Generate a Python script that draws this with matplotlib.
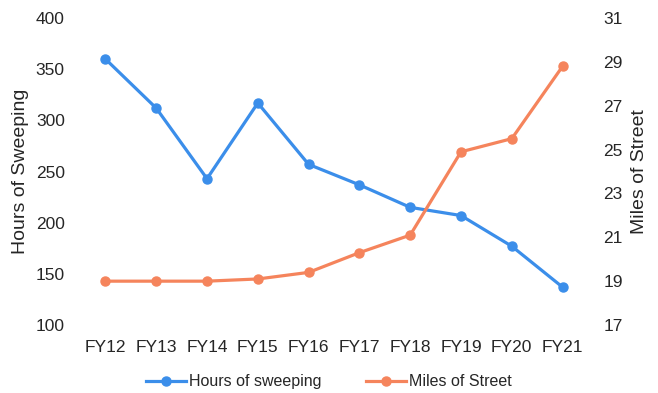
import matplotlib.pyplot as plt
import numpy as np

# Data
years = ['FY12', 'FY13', 'FY14', 'FY15', 'FY16', 'FY17', 'FY18', 'FY19', 'FY20', 'FY21']
hours = [360, 312, 243, 317, 257, 237, 215, 207, 177, 137]
miles = [19.0, 19.0, 19.0, 19.1, 19.4, 20.3, 21.1, 24.9, 25.5, 28.8]

BLUE = '#3B8EEA'
ORANGE = '#F5845C'
TEXT = '#262626'

plt.rcParams['font.family'] = ['Liberation Sans', 'DejaVu Sans']

fig = plt.figure(figsize=(6.58, 3.93), dpi=100)
ax = fig.add_axes([0.1216, 0.173, 0.772, 0.781])
ax2 = ax.twinx()

x = np.arange(len(years))
l1, = ax.plot(x, hours, color=BLUE, linewidth=2.3, marker='o', markersize=6.5,
              label='Hours of sweeping')
l2, = ax2.plot(x, miles, color=ORANGE, linewidth=2.3, marker='o', markersize=6.5,
               label='Miles of Street')

ax.set_xlim(-0.5, len(years) - 0.5)
ax.set_ylim(100, 400)
ax.set_yticks(range(100, 401, 50))
ax2.set_ylim(17, 31)
ax2.set_yticks(range(17, 32, 2))
ax.set_xticks(x)
ax.set_xticklabels(years)

for a in (ax, ax2):
    for s in a.spines.values():
        s.set_visible(False)
    a.tick_params(length=0, labelsize=12.5, colors=TEXT)
ax.tick_params(axis='y', pad=11)
ax2.tick_params(axis='y', pad=11)
ax.tick_params(axis='x', pad=11)

# axis titles, centred where the reference puts them
ax.set_ylabel('Hours of Sweeping', fontsize=14, color=TEXT)
ax2.set_ylabel('Miles of Street', fontsize=14, color=TEXT)
ax.yaxis.set_label_coords(-0.118, 0.5)
ax2.yaxis.set_label_coords(1.102, 0.5)
ax.yaxis.label.set_verticalalignment('center')
ax2.yaxis.label.set_verticalalignment('center')

fig.legend(handles=[l1, l2], loc='center', bbox_to_anchor=(0.5, 0.028),
           ncol=2, frameon=False, fontsize=11.5, handlelength=2.5,
           columnspacing=2.8, handletextpad=0.2, labelcolor=TEXT)

fig.savefig('out.png', dpi=100, facecolor='white')
